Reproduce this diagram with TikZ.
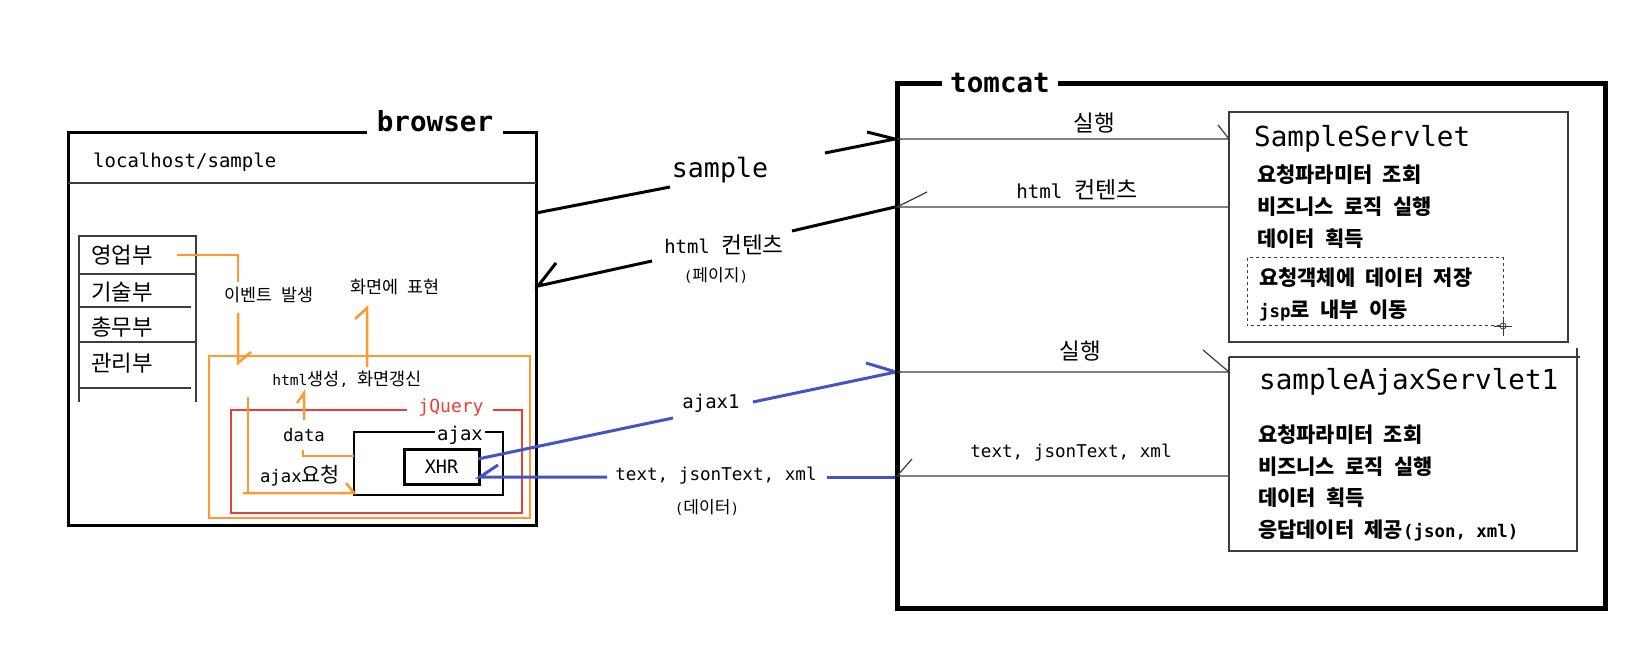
\documentclass[tikz,border=0pt]{standalone}
\usepackage{fontspec}
\setmainfont{DejaVu Sans Mono}
\newfontfamily\krfont[Scale=1.2]{Noto Sans CJK KR}
\chardef\krclass=7
\XeTeXinterchartokenstate=1
\count255="AC00
\loop
  \XeTeXcharclass\count255=\krclass
  \ifnum\count255<"D7A3
  \advance\count255 by 1
\repeat
\XeTeXinterchartoks 0 \krclass = {\krfont}
\XeTeXinterchartoks 4095 \krclass = {\krfont}
\XeTeXinterchartoks \krclass 0 = {\rmfamily}
\XeTeXinterchartoks \krclass 4095 = {\rmfamily}
\definecolor{orng}{RGB}{255,153,51}
\definecolor{redl}{RGB}{232,65,50}
\definecolor{bluel}{RGB}{68,84,196}
\definecolor{thingray}{RGB}{60,60,60}
\tikzset{
  txt/.style={inner sep=0pt,font=\fontsize{#1}{#1}\selectfont},
  btxt/.style={inner sep=0pt,font=\fontsize{#1}{#1}\selectfont\bfseries},
  framebox/.style={line width=3pt,line join=miter},
  tomcatbox/.style={line width=5pt,line join=miter},
  blackarrow/.style={line width=3pt},
  bluearrow/.style={bluel,line width=3pt},
  orngline/.style={orng,line width=2.5pt},
  redline/.style={redl,line width=2.5pt},
  thinline/.style={thingray,line width=1.2pt},
}
\begin{document}
\begin{tikzpicture}[x=1pt,y=-1pt]
\useasboundingbox[fill=white] (0,0) rectangle (1628,668);

% ---------------- browser ----------------
\draw[framebox] (367,133) -- (68,133) -- (68,525) -- (536,525) -- (536,133) -- (503,133);
\node[btxt=27.6,anchor=base] (browserlbl) at (435,132) {browser};
\node[txt=19,anchor=west] (url) at (93,162) {localhost/sample};
\draw[thinline] (68,183) -- (536,183);

% list
\draw[thinline] (79,402) -- (79,236) -- (196,236) -- (196,402);
\draw[thinline] (79,274) -- (196,274);
\draw[thinline] (79,307) -- (191,307);
\draw[thinline] (79,342) -- (196,342);
\draw[thinline] (79,388) -- (191,388);
\node[txt=18.6,anchor=west] (d1) at (91,255) {영업부};
\node[txt=18.6,anchor=west] (d2) at (91,292) {기술부};
\node[txt=18.6,anchor=west] (d3) at (91,327) {총무부};
\node[txt=18.6,anchor=west] (d4) at (91,363) {관리부};

% orange / red / black inner boxes
\draw[orngline] (209,356) rectangle (530,518);
\draw[redline] (407,410) -- (231,410) -- (231,513) -- (522,513) -- (522,410) -- (493,410);
\node[txt=18,text=redl,anchor=base] (jq) at (451,412) {jQuery};
\draw[line width=2.5pt,line join=miter] (435,432) -- (354,432) -- (354,495) -- (503,495) -- (503,432) -- (485,432);
\node[txt=19,anchor=base] (ajaxlbl) at (460,440) {ajax};
\node[draw,line width=3pt,minimum width=75pt,minimum height=35pt,txt=18.5] (xhr) at (441.5,466.5) {XHR};

% labels inside browser
\node[txt=14.5] (evt) at (269,295) {이벤트 발생};
\node[txt=14.5] (show) at (395,287) {화면에 표현};
\node[txt=14.6] (gen) at (347,379) {html생성, 화면갱신};
\node[txt=17.3] (data) at (304,435) {data};
\node[txt=17.3] (req) at (300,476) {ajax요청};

% orange connectors
\coordinate (e0) at (177,255);
\coordinate (e1) at (238,255);
\coordinate (e2) at (238,282);
\coordinate (e3) at (238,313);
\coordinate (e4) at (238,363);
\draw[orngline] (e0) -- (e1) -- (e2);
\draw[orngline] (e3) -- (e4) -- ++(13,-11);
\coordinate (s0) at (367,367);
\coordinate (s1) at (367,308);
\draw[orngline] (s0) -- (s1) -- ++(-12,11);
\coordinate (g0) at (304,420);
\coordinate (g1) at (304,393);
\draw[orngline] (g0) -- (g1) -- ++(-7,10);
\coordinate (a0) at (354,456);
\draw[orngline] (a0) -- (303,456) -- (303,450);
\coordinate (r0) at (248,397);
\coordinate (r1) at (248,493);
\coordinate (r2) at (354,493);
\draw[orngline] (r0) -- (r1);
\draw[orngline] (243,493) -- (r2) -- ++(-8,-10);

% ---------------- between ----------------
\node[txt=26.6,anchor=base] (sample) at (720,178) {sample};
\coordinate (sa0) at (536,213);
\coordinate (sa1) at (670,187);
\coordinate (sa2) at (825,153);
\coordinate (sa3) at (895,139);
\draw[blackarrow] (sa0) -- (sa1);
\draw[blackarrow] (sa2) -- (sa3) -- ++(-28,-7);

\node[txt=18.9] (htmlc) at (724,245) {html 컨텐츠};
\node[txt=14.2] (page) at (716,275) {(페이지)};
\coordinate (h0) at (895,207);
\coordinate (h1) at (792,231);
\coordinate (h2) at (652,261);
\coordinate (h3) at (538,286);
\draw[blackarrow] (h0) -- (h1);
\draw[blackarrow] (h2) -- (h3) -- ++(18,-23);

\node[txt=19] (ajax1) at (711,403) {ajax1};
\coordinate (b0) at (478,459);
\coordinate (b1) at (673,418);
\coordinate (b2) at (753,402);
\coordinate (b3) at (896,372);
\draw[bluearrow] (b0) -- (b1);
\draw[bluearrow] (b2) -- (b3) -- ++(-30,-9);

\node[txt=17.6] (rtxt) at (716,476) {text, jsonText, xml};
\node[txt=14.2] (rdata) at (707,507) {(데이터)};
\coordinate (c0) at (896,477);
\coordinate (c1) at (827,477);
\coordinate (c2) at (607,477);
\coordinate (c3) at (480,477);
\draw[bluearrow] (c0) -- (c1);
\draw[bluearrow] (c2) -- (c3) -- ++(18,-12);

% ---------------- tomcat ----------------
\draw[tomcatbox] (942,84) -- (897,84) -- (897,608) -- (1605,608) -- (1605,84) -- (1058,84);
\node[btxt=27.6,anchor=base] (tomcatlbl) at (1000,93) {tomcat};

\coordinate (t1a) at (897,139);
\coordinate (t1b) at (1229,139);
\draw[thinline] (t1a) -- (t1b) -- ++(-11,-14);
\node[txt=18.75] (run1) at (1094,123) {실행};

\coordinate (t2a) at (897,207);
\coordinate (t2b) at (1229,207);
\draw[thinline] (t2b) -- (t2a) -- ++(30,-15);
\node[txt=19.2] (html2) at (1077,190) {html 컨텐츠};

\coordinate (t3a) at (897,372);
\coordinate (t3b) at (1229,372);
\draw[thinline] (t3a) -- (t3b) -- ++(-26,-22);
\node[txt=18.75] (run2) at (1080,351) {실행};

\coordinate (t4a) at (897,476);
\coordinate (t4b) at (1229,476);
\draw[thinline] (t4b) -- (t4a) -- ++(15,-17);
\node[txt=17.6] (rtxt2) at (1071,453) {text, jsonText, xml};

% SampleServlet
\draw[thinline] (1229,112) rectangle (1568,342);
\node[txt=27.6,anchor=base west] (ss) at (1254,147) {SampleServlet};
\node[btxt=17.4,anchor=west] (ss1) at (1257,175) {요청파라미터 조회};
\node[btxt=17.4,anchor=west] (ss2) at (1257,207) {비즈니스 로직 실행};
\node[btxt=17.4,anchor=west] (ss3) at (1257,239) {데이터 획득};
\draw[thingray,line width=1pt,dashed] (1247,258) rectangle (1503,326);
\node[btxt=17.4,anchor=west] (ss4) at (1259,278) {요청객체에 데이터 저장};
\node[btxt=17.4,anchor=west] (ss5) at (1259,310) {jsp로 내부 이동};
\draw[thingray,line width=0.8pt] (1503,326) circle (3);
\draw[thingray,line width=0.8pt] (1494,326) -- (1512,326);
\draw[thingray,line width=0.8pt] (1503,318) -- (1503,336);

% sampleAjaxServlet1
\draw[thinline] (1229,357) -- (1580,357);
\draw[thinline] (1577,348) -- (1577,551) -- (1229,551) -- (1229,357);
\node[txt=27.6,anchor=base west] (as) at (1259,389) {sampleAjaxServlet1};
\node[btxt=17.4,anchor=west] (as1) at (1258,435) {요청파라미터 조회};
\node[btxt=17.4,anchor=west] (as2) at (1258,467) {비즈니스 로직 실행};
\node[btxt=17.4,anchor=west] (as3) at (1258,498) {데이터 획득};
\node[btxt=17.4,anchor=west] (as4) at (1258,530) {응답데이터 제공(json, xml)};
\end{tikzpicture}
\end{document}
